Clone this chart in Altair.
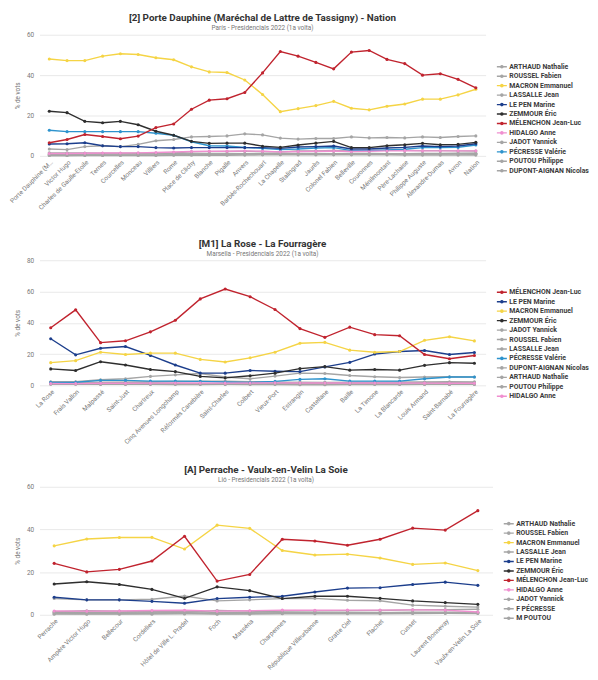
import altair as alt
import pandas as pd

# ---------------- Panel 1: Paris, line 2 ----------------
P1_TITLE = "[2] Porte Dauphine (Maréchal de Lattre de Tassigny) - Nation"
P1_SUBTITLE = "París - Presidencials 2022 (1a volta)"
P1_STATIONS = ["Porte Dauphine (Maréchal de Lattre de Tassigny)", "Victor Hugo", "Charles de Gaulle-Etoile",
               "Ternes", "Courcelles", "Monceau", "Villiers", "Rome", "Place de Clichy", "Blanche",
               "Pigalle", "Anvers", "Barbès-Rochechouart", "La Chapelle", "Stalingrad", "Jaurès",
               "Colonel Fabien", "Belleville", "Couronnes", "Ménilmontant", "Père-Lachaise",
               "Philippe Auguste", "Alexandre-Dumas", "Avron", "Nation"]
P1_ARTHAUD = [0.2, 0.2, 0.2, 0.2, 0.2, 0.2, 0.2, 0.3, 0.3, 0.3, 0.3, 0.4, 0.5, 0.6, 0.5, 0.5, 0.5, 0.5, 0.5, 0.5, 0.4, 0.4, 0.4, 0.4, 0.4]
P1_ROUSSEL = [0.8, 0.8, 0.9, 1.0, 1.0, 1.1, 1.3, 1.5, 2.0, 2.1, 2.2, 2.3, 2.2, 2.0, 2.4, 2.5, 2.7, 2.5, 2.7, 2.8, 2.7, 2.6, 2.6, 2.5, 2.4]
P1_MACRON = [48.0, 47.2, 47.2, 49.4, 50.6, 50.2, 48.6, 47.6, 44.1, 41.6, 41.3, 37.6, 30.4, 21.9, 23.4, 24.9, 27.0, 23.6, 22.8, 24.6, 25.7, 28.1, 28.1, 30.2, 33.0]
P1_LASSALLE = [0.9, 0.9, 0.9, 0.9, 0.9, 0.9, 0.9, 0.9, 1.0, 1.0, 1.0, 1.1, 1.2, 1.3, 1.2, 1.2, 1.1, 1.2, 1.2, 1.1, 1.1, 1.2, 1.2, 1.3, 1.3]
P1_LEPEN = [5.9, 6.0, 6.5, 5.0, 4.6, 4.6, 4.1, 3.9, 4.1, 4.1, 4.1, 4.1, 4.1, 3.7, 4.4, 4.6, 4.9, 3.4, 3.4, 3.9, 4.2, 4.9, 4.6, 4.9, 6.0]
P1_ZEMMOUR = [22.1, 21.4, 17.1, 16.4, 17.1, 15.4, 12.2, 10.2, 7.2, 6.2, 6.3, 6.3, 4.8, 4.2, 5.4, 6.3, 7.2, 4.1, 4.1, 5.0, 5.5, 6.2, 5.5, 5.7, 6.7]
P1_MELENCHON = [6.5, 8.1, 10.6, 9.6, 8.5, 9.8, 14.0, 15.8, 23.1, 27.6, 28.3, 31.4, 41.1, 51.7, 49.4, 46.3, 43.1, 51.4, 52.2, 47.8, 45.7, 40.0, 40.7, 37.9, 33.7]
P1_HIDALGO = [1.2, 1.2, 1.3, 1.4, 1.4, 1.5, 1.7, 1.9, 2.2, 2.3, 2.3, 2.4, 2.3, 2.0, 2.2, 2.3, 2.4, 2.2, 2.3, 2.5, 2.6, 2.5, 2.5, 2.5, 2.5]
P1_JADOT = [3.4, 3.1, 4.6, 5.0, 4.6, 5.7, 7.5, 8.1, 9.4, 9.6, 9.9, 10.9, 10.4, 8.8, 8.3, 8.6, 8.6, 9.4, 8.9, 9.1, 8.9, 9.4, 9.1, 9.6, 9.9]
P1_PECRESSE = [12.7, 12.0, 12.0, 12.0, 12.0, 12.0, 11.2, 10.2, 7.0, 5.0, 4.9, 4.2, 3.7, 3.1, 3.4, 3.9, 4.1, 2.6, 2.6, 2.9, 3.3, 4.1, 4.1, 4.2, 5.4]
P1_POUTOU = [0.2, 0.2, 0.3, 0.3, 0.3, 0.3, 0.4, 0.5, 0.7, 0.8, 0.8, 0.9, 1.0, 1.1, 1.0, 1.0, 1.0, 1.1, 1.1, 1.0, 1.0, 0.9, 0.9, 0.9, 0.8]
P1_DUPONT = [1.5, 1.5, 1.4, 1.3, 1.3, 1.3, 1.2, 1.1, 1.0, 0.9, 0.9, 0.9, 0.9, 0.9, 0.9, 0.8, 0.9, 0.8, 0.8, 0.8, 0.9, 1.0, 1.0, 1.1, 1.2]

# ---------------- Panel 2: Marseille, M1 ----------------
P2_TITLE = "[M1] La Rose - La Fourragère"
P2_SUBTITLE = "Marsella - Presidencials 2022 (1a volta)"
P2_STATIONS = ["La Rose", "Frais Vallon", "Malpassé", "Saint-Just", "Chartreux", "Cinq Avenues Longchamp",
               "Réformés Canebière", "Saint-Charles", "Colbert", "Vieux-Port", "Estrangin", "Castellane",
               "Baille", "La Timone", "La Blancarde", "Louis Armand", "Saint-Barnabé", "La Fourragère"]
P2_MELENCHON = [36.8, 48.3, 27.3, 28.5, 34.2, 41.6, 55.3, 61.6, 56.7, 48.5, 36.3, 30.7, 37.2, 32.4, 31.7, 19.7, 17.0, 19.1]
P2_LEPEN = [29.8, 19.5, 23.7, 24.8, 19.1, 13.0, 7.8, 7.8, 9.5, 9.0, 8.8, 11.8, 14.7, 20.0, 21.6, 22.3, 19.7, 21.0]
P2_MACRON = [14.5, 15.8, 21.2, 19.7, 20.6, 20.6, 16.6, 14.9, 17.6, 21.2, 26.9, 27.5, 22.5, 21.2, 21.6, 28.8, 31.1, 28.4]
P2_ZEMMOUR = [10.5, 9.5, 15.1, 13.0, 10.1, 8.8, 5.7, 4.8, 6.1, 7.8, 10.7, 12.0, 9.7, 10.1, 9.7, 12.8, 14.5, 14.1]
P2_JADOT = [2.3, 2.3, 3.6, 4.2, 5.7, 6.7, 7.6, 5.3, 4.2, 5.9, 7.8, 7.6, 6.3, 5.5, 5.0, 5.3, 5.5, 5.3]
P2_ROUSSEL = [1.9, 2.1, 1.8, 2.0, 2.3, 2.5, 2.6, 2.7, 2.3, 2.2, 1.8, 1.7, 2.0, 2.0, 2.1, 1.8, 1.6, 1.7]
P2_LASSALLE = [1.2, 1.2, 1.5, 1.4, 1.3, 1.1, 0.9, 0.8, 0.9, 1.0, 1.2, 1.2, 1.3, 1.3, 1.3, 1.6, 1.7, 1.8]
P2_PECRESSE = [1.9, 2.0, 3.2, 3.2, 2.7, 2.7, 2.5, 2.1, 1.9, 2.5, 3.8, 4.2, 2.7, 2.7, 2.7, 4.2, 5.3, 5.3]
P2_DUPONT = [1.4, 1.3, 1.8, 1.8, 1.6, 1.4, 1.0, 0.9, 1.1, 1.3, 1.8, 1.9, 1.7, 1.7, 1.7, 2.1, 2.3, 2.2]
P2_ARTHAUD = [0.7, 0.7, 0.6, 0.6, 0.6, 0.5, 0.5, 0.6, 0.5, 0.5, 0.4, 0.4, 0.5, 0.5, 0.5, 0.6, 0.6, 0.6]
P2_POUTOU = [0.9, 0.9, 0.8, 0.8, 0.9, 1.0, 1.1, 1.2, 1.1, 1.0, 0.8, 0.7, 0.9, 0.8, 0.8, 0.7, 0.6, 0.7]
P2_HIDALGO = [1.2, 1.1, 1.3, 1.3, 1.4, 1.5, 1.5, 1.4, 1.5, 1.6, 1.5, 1.5, 1.5, 1.5, 1.5, 1.4, 1.3, 1.3]

# ---------------- Panel 3: Lyon, A ----------------
P3_TITLE = "[A] Perrache - Vaulx-en-Velin La Soie"
P3_SUBTITLE = "Lió - Presidencials 2022 (1a volta)"
P3_STATIONS = ["Perrache", "Ampère Victor Hugo", "Bellecour", "Cordeliers", "Hôtel de Ville L. Pradel",
               "Foch", "Masséna", "Charpennes", "République Villeurbanne", "Gratte Ciel", "Flachet",
               "Cusset", "Laurent Bonnevay", "Vaulx-en-Velin La Soie"]
P3_ARTHAUD = [0.3, 0.3, 0.3, 0.3, 0.4, 0.3, 0.3, 0.5, 0.5, 0.5, 0.5, 0.6, 0.7, 0.8]
P3_ROUSSEL = [1.2, 1.1, 1.1, 1.3, 1.8, 1.0, 1.2, 1.8, 1.9, 1.9, 2.0, 2.3, 2.4, 2.6]
P3_MACRON = [32.3, 35.5, 36.2, 36.3, 30.8, 42.0, 40.5, 30.1, 28.0, 28.4, 26.6, 23.6, 24.3, 20.7]
P3_LASSALLE = [0.8, 0.8, 0.7, 0.8, 0.7, 0.8, 0.8, 0.9, 1.0, 1.0, 1.0, 1.2, 1.2, 1.2]
P3_LEPEN = [8.2, 7.0, 7.0, 6.3, 5.4, 7.6, 8.2, 8.7, 10.7, 12.5, 12.7, 14.2, 15.3, 13.8]
P3_ZEMMOUR = [14.4, 15.5, 14.2, 11.9, 7.7, 13.1, 11.3, 7.6, 8.7, 8.7, 7.7, 6.5, 5.7, 4.9]
P3_MELENCHON = [24.1, 20.1, 21.3, 25.2, 36.8, 15.8, 18.9, 35.4, 34.6, 32.6, 35.4, 40.6, 39.7, 48.8]
P3_HIDALGO = [1.8, 1.7, 1.8, 2.0, 2.1, 1.7, 1.9, 2.2, 2.1, 2.2, 2.2, 2.3, 2.2, 1.3]
P3_JADOT = [7.6, 7.0, 7.0, 7.3, 8.8, 6.5, 7.0, 7.6, 7.7, 6.8, 6.6, 4.5, 4.0, 3.6]
P3_PECRESSE = [1.5, 1.9, 1.7, 1.4, 1.0, 2.0, 1.7, 1.2, 1.1, 1.0, 0.9, 0.8, 0.7, 0.6]
P3_POUTOU = [0.6, 0.5, 0.5, 0.7, 1.0, 0.5, 0.6, 0.9, 0.9, 0.9, 0.9, 1.0, 1.0, 1.1]

FONT = "Roboto"
GRAY = "#a5a5a5"
COLOR_OF = {
    "MÉLENCHON Jean-Luc": "#c0232e",
    "MACRON Emmanuel": "#f5d445",
    "LE PEN Marine": "#1c3e8c",
    "ZEMMOUR Éric": "#2e2e2e",
    "PÉCRESSE Valérie": "#2d93cd",
    "HIDALGO Anne": "#f08fd0",
}
RANK = {"PÉCRESSE Valérie": 1, "HIDALGO Anne": 2, "LE PEN Marine": 3, "ZEMMOUR Éric": 4,
        "MACRON Emmanuel": 5, "MÉLENCHON Jean-Luc": 6}

LEGEND_SYMBOL = "M-1.45,0H1.45M0,-0.33A0.33,0.33 0 1,1 0,0.33A0.33,0.33 0 1,1 0,-0.33Z"


def panel(title, subtitle, stations, series, ymax, yvals, width, height, pad, lx, ly, label_expr=None):
    legend_order = list(series.keys())
    rows = []
    for name in sorted(legend_order, key=lambda n: RANK.get(n, 0)):
        for st, v in zip(stations, series[name]):
            rows.append({"station": st, "candidate": name, "value": v})
    df = pd.DataFrame(rows)
    colors = [COLOR_OF.get(n, GRAY) for n in legend_order]

    xaxis_kw = dict(title=None, labelAngle=-45, labelFontSize=6.5, labelColor="#777777", labelFont=FONT,
                    grid=False, domain=False, ticks=False, labelPadding=3)
    if label_expr:
        xaxis_kw["labelExpr"] = label_expr

    return alt.Chart(df, title=alt.TitleParams(
        text=title, subtitle=subtitle, font=FONT, fontSize=10, fontWeight="bold", color="#333333",
        subtitleFont=FONT, subtitleFontSize=6.5, subtitleColor="#777777", subtitlePadding=2,
        offset=0, anchor="middle")).mark_line(
        strokeWidth=1.4, point=alt.OverlayMarkDef(filled=True, size=10, opacity=1)
    ).encode(
        x=alt.X("station:N", sort=stations, scale=alt.Scale(type="point", padding=pad),
                axis=alt.Axis(**xaxis_kw)),
        y=alt.Y("value:Q", scale=alt.Scale(domain=[0, ymax], nice=False),
                axis=alt.Axis(title="% de vots", values=yvals, labelFontSize=6.5, labelColor="#777777",
                              labelFont=FONT, titleFont=FONT, titleFontSize=6.5, titleColor="#777777",
                              titleFontWeight="normal", gridColor="#e9e9e9", domain=False, ticks=False,
                              labelPadding=6, titlePadding=6)),
        color=alt.Color("candidate:N", scale=alt.Scale(domain=legend_order, range=colors),
                        legend=alt.Legend(orient="none", legendX=lx, legendY=ly, title=None,
                                          labelFont=FONT, labelFontSize=7, labelFontWeight="bold",
                                          labelColor="#3a3a3a", symbolType=LEGEND_SYMBOL, symbolSize=49,
                                          symbolStrokeWidth=1.4, rowPadding=0.6, labelOffset=3,
                                          padding=0, labelLimit=200)),
    ).properties(width=width, height=height)


p1 = panel(P1_TITLE, P1_SUBTITLE, P1_STATIONS, {
    "ARTHAUD Nathalie": P1_ARTHAUD, "ROUSSEL Fabien": P1_ROUSSEL, "MACRON Emmanuel": P1_MACRON,
    "LASSALLE Jean": P1_LASSALLE, "LE PEN Marine": P1_LEPEN, "ZEMMOUR Éric": P1_ZEMMOUR,
    "MÉLENCHON Jean-Luc": P1_MELENCHON, "HIDALGO Anne": P1_HIDALGO, "JADOT Yannick": P1_JADOT,
    "PÉCRESSE Valérie": P1_PECRESSE, "POUTOU Philippe": P1_POUTOU, "DUPONT-AIGNAN Nicolas": P1_DUPONT,
}, 60, [0, 20, 40, 60], 453, 123, 0.55, 465, 28,
    label_expr="length(datum.label) > 30 ? slice(datum.label, 0, 17) + '…' : datum.label")

p2 = panel(P2_TITLE, P2_SUBTITLE, P2_STATIONS, {
    "MÉLENCHON Jean-Luc": P2_MELENCHON, "LE PEN Marine": P2_LEPEN, "MACRON Emmanuel": P2_MACRON,
    "ZEMMOUR Éric": P2_ZEMMOUR, "JADOT Yannick": P2_JADOT, "ROUSSEL Fabien": P2_ROUSSEL,
    "LASSALLE Jean": P2_LASSALLE, "PÉCRESSE Valérie": P2_PECRESSE, "DUPONT-AIGNAN Nicolas": P2_DUPONT,
    "ARTHAUD Nathalie": P2_ARTHAUD, "POUTOU Philippe": P2_POUTOU, "HIDALGO Anne": P2_HIDALGO,
}, 80, [0, 20, 40, 60, 80], 453, 127, 0.45, 465, 28)

p3 = panel(P3_TITLE, P3_SUBTITLE, P3_STATIONS, {
    "ARTHAUD Nathalie": P3_ARTHAUD, "ROUSSEL Fabien": P3_ROUSSEL, "MACRON Emmanuel": P3_MACRON,
    "LASSALLE Jean": P3_LASSALLE, "LE PEN Marine": P3_LEPEN, "ZEMMOUR Éric": P3_ZEMMOUR,
    "MÉLENCHON Jean-Luc": P3_MELENCHON, "HIDALGO Anne": P3_HIDALGO, "JADOT Yannick": P3_JADOT,
    "F PÉCRESSE": P3_PECRESSE, "M POUTOU": P3_POUTOU,
}, 60, [0, 20, 40, 60], 460, 130, 0.45, 472, 33)

lower = alt.vconcat(p2, p3, spacing=20).resolve_scale(color="independent")
chart = alt.vconcat(p1, lower, spacing=28).resolve_scale(color="independent").properties(
    padding={"left": 0, "top": 0, "right": 0, "bottom": 0}
).configure(font=FONT).configure_view(stroke=None)

chart.save("out.html", embed_options={"renderer": "svg", "actions": False})
